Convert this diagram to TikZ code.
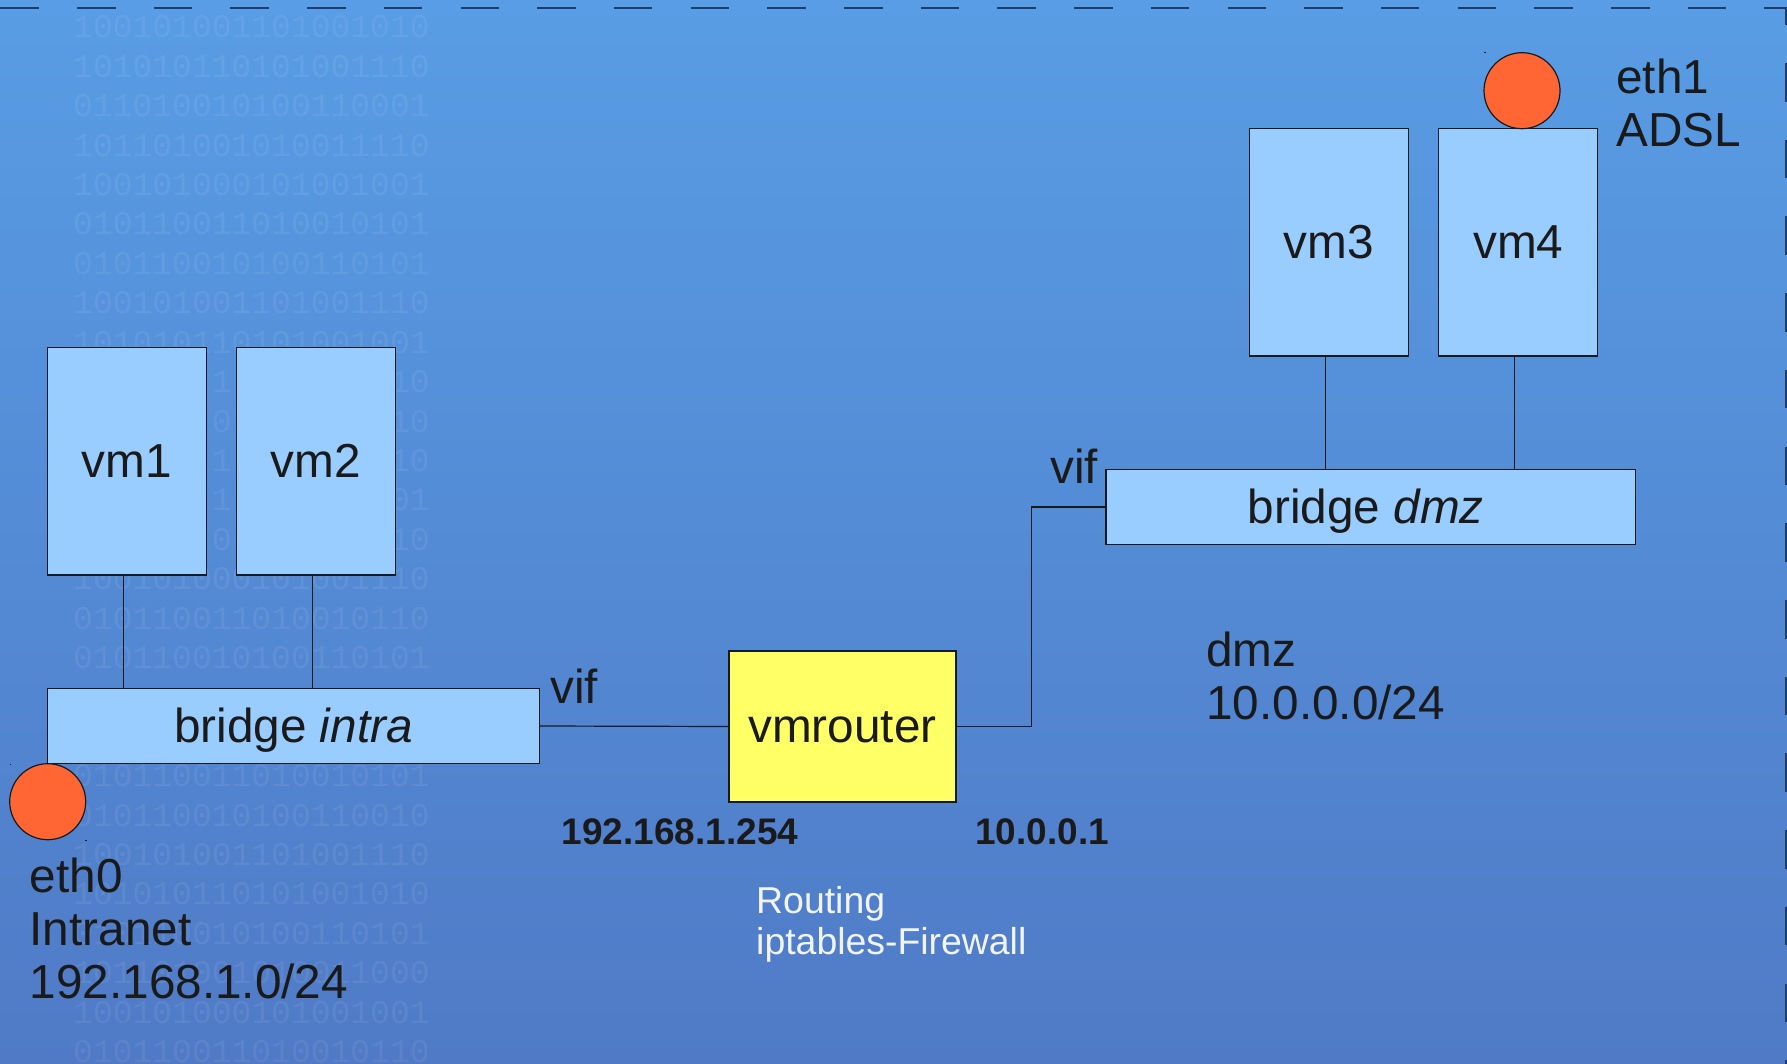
\documentclass[tikz,border=0pt]{standalone}
\usepackage{fontspec}
\setmainfont{Liberation Sans}
\newfontfamily\binfont{Liberation Mono}
\definecolor{bgtop}{RGB}{88,157,229}
\definecolor{bgbot}{RGB}{80,122,198}
\definecolor{boxblue}{HTML}{99CCFF}
\definecolor{nicorange}{HTML}{FF6633}
\definecolor{routeryellow}{HTML}{FFFF66}
\definecolor{inkdark}{HTML}{1A1A1A}
\definecolor{framedark}{RGB}{30,62,105}
\tikzset{
  boxbase/.style={draw=inkdark,line width=1.2pt,rectangle,inner sep=0pt,text=inkdark,
    font=\fontsize{47.7}{53}\selectfont,text height=32pt,text depth=0pt,align=center},
  vmbox/.style={boxbase,fill=boxblue,minimum width=159pt,minimum height=227.5pt},
  bridgebox/.style={boxbase,fill=boxblue,minimum height=75.5pt},
  routerbox/.style={boxbase,fill=routeryellow,minimum width=227pt,minimum height=151pt},
  nic/.style={circle,draw=inkdark,line width=1.2pt,fill=nicorange,minimum size=76pt,inner sep=0pt},
  wire/.style={draw=inkdark,line width=1.2pt},
  biglabel/.style={anchor=base west,inner sep=0pt,text=inkdark,align=left,font=\fontsize{47.7}{53}\selectfont},
  iplabel/.style={anchor=base west,inner sep=0pt,text=inkdark,font=\fontsize{37}{40}\selectfont\bfseries},
  whitelabel/.style={anchor=base west,inner sep=0pt,text=white,text opacity=.92,align=left,font=\fontsize{37.4}{41.5}\selectfont},
  binrow/.style={anchor=base west,inner sep=0pt,text=white,text opacity=.07,font=\fontsize{33}{39}\binfont},
}
\begin{document}
\begin{tikzpicture}[x=1pt,y=-1pt]
\path[use as bounding box,top color=bgtop,bottom color=bgbot] (0,0) rectangle (1787,1064);
% binary watermark: rows and the parts of rows that the boxes leave visible
\foreach \i/\s in {
0/100101001101001010,1/101010110101001110,2/011010010100110001,3/101101001010011110,
4/100101000101001001,5/010110011010010101,6/010110010100110101,7/100101001101001110,
8/101010110101001001,14/100101000101001110,15/010110011010010110,
16/010110010100110101,19/010110011010010101,
20/010110010100110010,21/100101001101001110,22/101010110101001010,23/010110010100110101,
24/101101001010011000,25/100101000101001001,26/010110011010010110}{
  \node[binrow] (bin\i) at (73,{38+39.4*\i}) {\s};
}
\foreach \i/\m/\e in {9/1/10,10/0/10,11/1/10,12/1/01,13/0/10}{
  \node[binrow] (binm\i) at ({73+19.8*7},{38+39.4*\i}) {\m};
  \node[binrow] (bine\i) at ({73+19.8*16},{38+39.4*\i}) {\e};
}
% dashed frame
\coordinate (frameA) at (0.3,8);
\coordinate (frameB) at (1786,8);
\coordinate (frameC) at (1786,1064);
\draw[framedark,line width=1.5pt,dash pattern=on 38.5pt off 38.2pt] (frameA) -- (frameB) -- (frameC);
% nodes
\node[vmbox] (vm1) at (127,461.25) {vm1};
\node[vmbox] (vm2) at (316,461.25) {vm2};
\node[vmbox] (vm3) at (1328.8,242.25) {vm3};
\node[vmbox] (vm4) at (1518.3,242.25) {vm4};
\node[bridgebox,minimum width=491.5pt] (intra) at (293.4,726) {bridge \textit{intra}};
\node[bridgebox,minimum width=529.5pt] (dmz) at (1370.7,507) {bridge \textit{dmz}\kern10pt};
\node[routerbox] (router) at (842.5,726.5) {vmrouter};
\node[nic] (eth0) at (47.7,801.7) {};
\node[nic] (eth1) at (1522,90.7) {};
% connectors
\draw[wire] ([xshift=-3.5pt]vm1.south) -- ([xshift=-3.5pt]vm1.south |- intra.north);
\draw[wire] ([xshift=-3.5pt]vm2.south) -- ([xshift=-3.5pt]vm2.south |- intra.north);
\draw[wire] ([xshift=-3.5pt]vm3.south) -- ([xshift=-3.5pt]vm3.south |- dmz.north);
\draw[wire] ([xshift=-3.5pt]vm4.south) -- ([xshift=-3.5pt]vm4.south |- dmz.north);
\draw[wire] (intra.east) -- (router.west);
\draw[wire] (router.east) -- ++(74.5,0) |- (dmz.west);
% tiny marks beside the circles
\fill[inkdark] (9.5,763.5) rectangle (11,765);
\fill[inkdark] (85,839.5) rectangle (87,840.5);
\fill[inkdark] (1484,52.5) rectangle (1486,53.5);
% labels
\node[biglabel] (eth0txt) at (29.5,998.7) {eth0\\Intranet\\192.168.1.0/24};
\node[biglabel] (eth1txt) at (1616,146.7) {eth1\\ADSL};
\node[biglabel] (dmztxt) at (1206,719.5) {dmz\\10.0.0.0/24};
\node[biglabel] (vifa) at (550,703) {vif};
\node[biglabel] (vifb) at (1050,483) {vif};
\node[iplabel] (ipa) at (561.5,844.5) {192.168.1.254};
\node[iplabel] (ipb) at (975,844.5) {10.0.0.1};
\node[whitelabel] (routing) at (756,954.5) {Routing\\iptables-Firewall};
\end{tikzpicture}
\end{document}
